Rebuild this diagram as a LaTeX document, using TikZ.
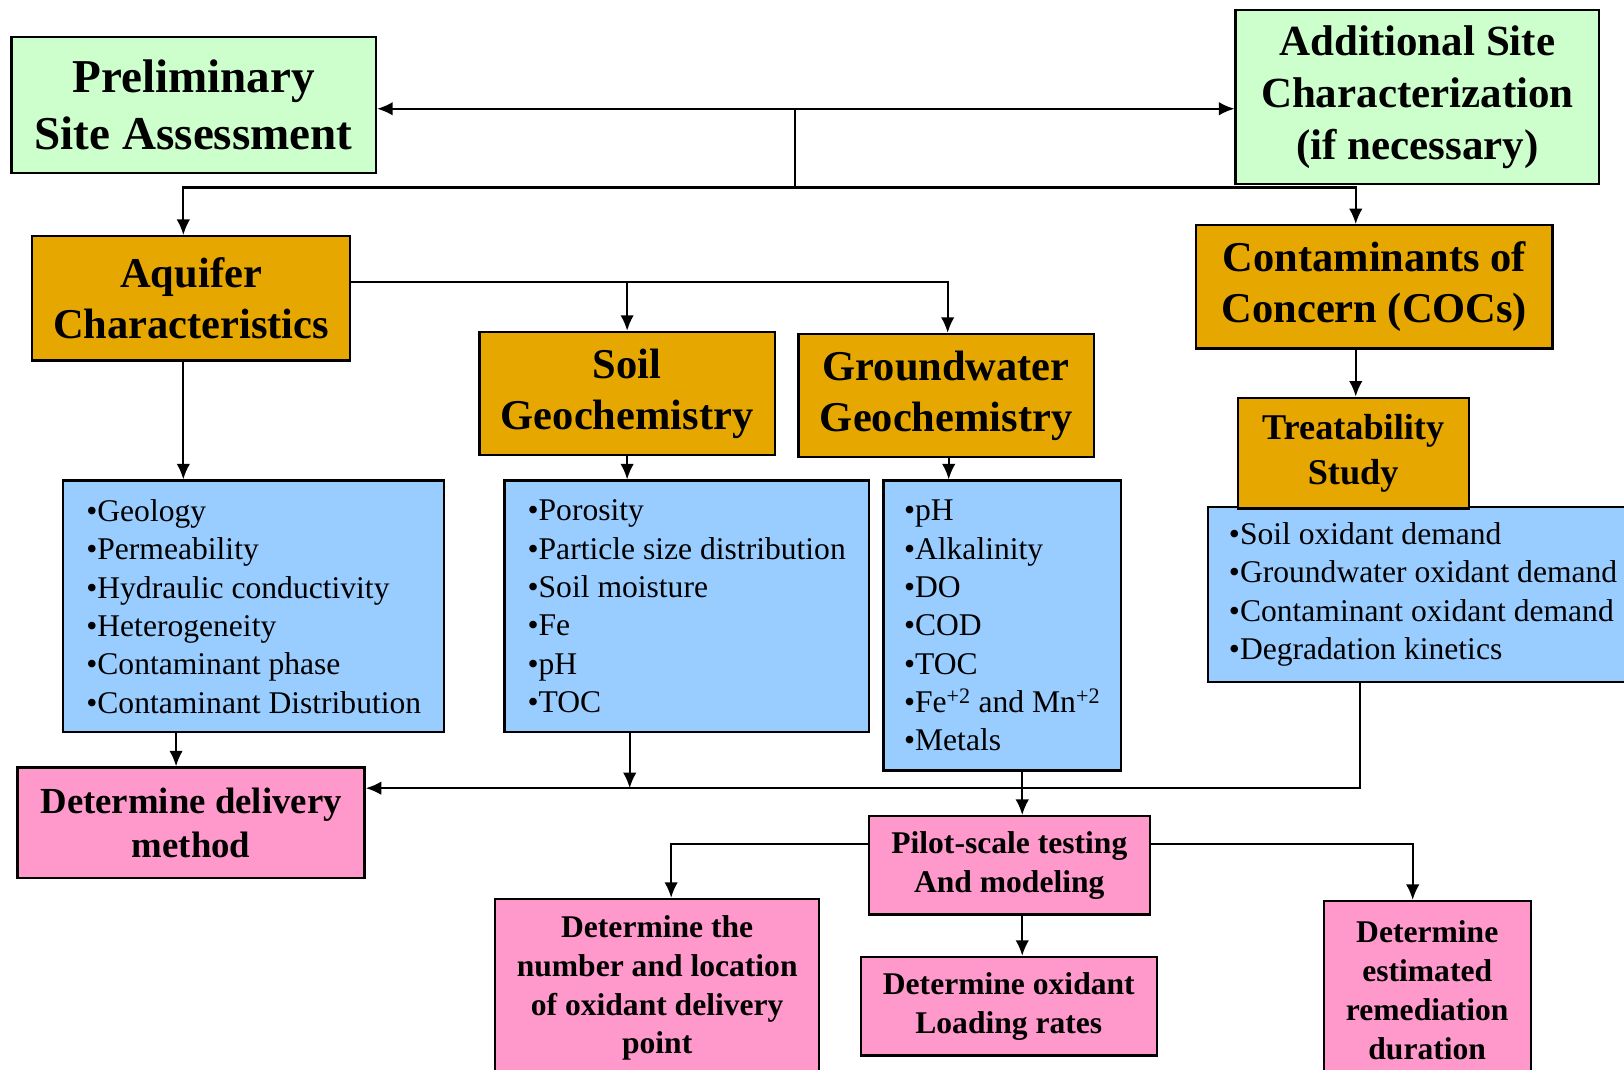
\documentclass[tikz,border=0pt]{standalone}
\usepackage{fontspec}
\setmainfont{Liberation Serif}
\usetikzlibrary{arrows.meta}

\definecolor{sitegreen}{HTML}{CCFFCC}
\definecolor{topicorange}{HTML}{E6A800}
\definecolor{itemblue}{HTML}{99CCFF}
\definecolor{taskpink}{HTML}{FF99CC}

\tikzset{
  box/.style={draw=black, line width=2.2pt, inner sep=0pt, align=center},
  site/.style={box, fill=sitegreen},
  topic/.style={box, fill=topicorange, font=\bfseries\fontsize{41}{49}\selectfont},
  items/.style={box, fill=itemblue, align=left, font=\fontsize{30.5}{37}\selectfont},
  task/.style={box, fill=taskpink, font=\bfseries\fontsize{30.5}{37.5}\selectfont},
  link/.style={line width=2pt},
  arr/.style={link, -{Latex[length=15pt,width=13pt]}},
}

\begin{document}
\begin{tikzpicture}[x=1pt,y=-1pt]

	\useasboundingbox (0,0) rectangle (1568,1033);

	% site assessment
	\node[site, minimum width=352, minimum height=131, font=\bfseries\fontsize{45.5}{55}\selectfont] (prelim) at (187,101.5) {Preliminary\\Site Assessment};
	\node[site, minimum width=351, minimum height=168, font=\bfseries\fontsize{41.5}{50}\selectfont] (addsite) at (1368.5,94) {Additional Site\\Characterization\\(if necessary)};

	% topics
	\node[topic, minimum width=307, minimum height=120] (aquifer) at (184.5,288) {Aquifer\\Characteristics};
	\node[topic, minimum width=285, minimum height=119] (soil) at (605.5,380) {Soil\\Geochemistry};
	\node[topic, minimum width=285, minimum height=119] (gw) at (913.5,382) {Groundwater\\Geochemistry};
	\node[topic, minimum width=344, minimum height=119] (cocs) at (1327,277) {Contaminants of\\Concern (COCs)};

	% parameter lists
	\node[items, minimum width=368, minimum height=243] (aqlist) at (245,585.5) {•Geology\\•Permeability\\•Hydraulic conductivity\\•Heterogeneity\\•Contaminant phase\\•Contaminant Distribution};
	\node[items, minimum width=352, minimum height=243] (soillist) at (663,585.5) {•Porosity\\•Particle size distribution\\•Soil moisture\\•Fe\\•pH\\•TOC};
	\node[items, minimum width=229, minimum height=280] (gwlist) at (967.5,604) {•pH\\•Alkalinity\\•DO\\•COD\\•TOC\\•Fe\textsuperscript{+2} and Mn\textsuperscript{+2}\\•Metals};
	\node[items, minimum width=416, minimum height=169] (treatlist) at (1374,574) {•Soil oxidant demand\\•Groundwater oxidant demand\\•Contaminant oxidant demand\\•Degradation kinetics};
	\node[topic, minimum width=223, minimum height=107, font=\bfseries\fontsize{35}{43}\selectfont] (treat) at (1306.5,437.5) {Treatability\\Study};

	% tasks
	\node[task, minimum width=335, minimum height=107, font=\bfseries\fontsize{35.5}{42}\selectfont] (delivery) at (184.5,794.5) {Determine delivery\\method};
	\node[task, minimum width=271, minimum height=95] (pilot) at (974.5,835.5) {Pilot-scale testing\\And modeling};
	\node[task, minimum width=313, minimum height=172] (locate) at (634.5,954) {Determine the\\number and location\\of oxidant delivery\\point};
	\node[task, minimum width=286, minimum height=95] (oxidant) at (974,971.5) {Determine oxidant\\Loading rates};
	\node[task, minimum width=200, minimum height=172] (duration) at (1378,956) {Determine\\estimated\\remediation\\duration};

	% connectors
	\coordinate (split) at (768,105);
	\coordinate (fork) at (768,181);
	\draw[arr] (split) -- (split -| prelim.east);
	\draw[arr] (split) -- (split -| addsite.west);
	\draw[link] (split) -- (fork);
	\draw[arr] (fork) -| ([xshift=-7.5pt]aquifer.north);
	\draw[arr] (fork) -| ([xshift=-18pt]cocs.north);

	\draw[arr] ([yshift=16pt]aquifer.east) -| (soil.north);
	\draw[arr] ([yshift=16pt]aquifer.east) -| ([xshift=1.5pt]gw.north);
	\draw[arr] ([xshift=-18pt]cocs.south) -- ([xshift=-18pt]cocs.south |- treat.north);

	\draw[arr] ([xshift=-7.5pt]aquifer.south) -- ([xshift=-7.5pt]aquifer.south |- aqlist.north);
	\draw[arr] (soil.south) -- (soil.south |- soillist.north);
	\draw[arr] ([xshift=2.5pt]gw.south) -- ([xshift=2.5pt]gw.south |- gwlist.north);

	\coordinate (trunk) at ([yshift=33.5pt]delivery.east);
	\draw[arr] ([xshift=-61pt]treatlist.south) |- (trunk);
	\draw[arr] ([xshift=-75pt]aqlist.south) -- ([xshift=-75pt]aqlist.south |- delivery.north);
	\draw[arr] ([xshift=-55pt]soillist.south) -- ([xshift=-55pt]soillist.south |- trunk);
	\draw[arr] ([xshift=19.5pt]gwlist.south) -- ([xshift=19.5pt]gwlist.south |- pilot.north);

	\draw[arr] ([yshift=20.5pt]pilot.west) -| ([xshift=13.5pt]locate.north);
	\draw[arr] ([yshift=20.5pt]pilot.east) -| ([xshift=-14pt]duration.north);
	\draw[arr] ([xshift=12.5pt]pilot.south) -- ([xshift=12.5pt]pilot.south |- oxidant.north);

\end{tikzpicture}
\end{document}
